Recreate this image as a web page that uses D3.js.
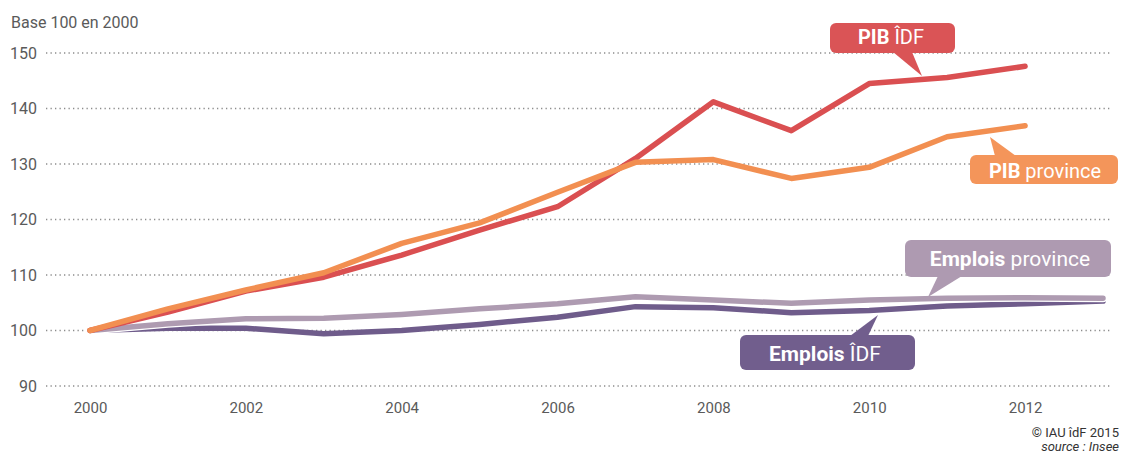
<!DOCTYPE html>
<html>
<head>
<meta charset="utf-8">
<script src="https://cdn.jsdelivr.net/npm/d3@7"></script>
<style>
  html, body { margin: 0; padding: 0; background: #fff; }
  svg { display: block; font-family: "Roboto", "Liberation Sans", sans-serif; }
</style>
</head>
<body>
<svg id="chart" width="1121" height="455"></svg>
<script>
const years = [2000, 2001, 2002, 2003, 2004, 2005, 2006, 2007, 2008, 2009, 2010, 2011, 2012, 2013];
const pibIdf = [100, 103.3, 107.1, 109.6, 113.6, 118.1, 122.3, 131.0, 141.2, 136.0, 144.5, 145.6, 147.6];
const pibProvince = [100, 103.9, 107.3, 110.4, 115.7, 119.4, 124.9, 130.3, 130.8, 127.4, 129.4, 134.9, 136.9];
const emploisProvince = [100, 101.2, 102.1, 102.2, 102.9, 103.9, 104.8, 106.1, 105.5, 104.9, 105.5, 105.8, 105.9, 105.8];
const emploisIdf = [100, 100.4, 100.4, 99.4, 100.0, 101.1, 102.4, 104.3, 104.1, 103.2, 103.6, 104.4, 104.8, 105.3];
const yTicks = [90, 100, 110, 120, 130, 140, 150];
const xTicks = [2000, 2002, 2004, 2006, 2008, 2010, 2012];
const yAxisTitle = "Base 100 en 2000";
const credit = "© IAU îdF 2015";
const source = "source : Insee";

const svg = d3.select("#chart");
const x = d3.scaleLinear().domain([2000, 2013]).range([90, 1103]);
const y = d3.scaleLinear().domain([90, 150]).range([386, 53]);

// gridlines
const grid = svg.append("g");
grid.selectAll("line").data(yTicks).join("line")
  .attr("x1", 46).attr("x2", 1112)
  .attr("y1", d => y(d)).attr("y2", d => y(d))
  .attr("stroke", "#8c8c8c").attr("stroke-width", 1.4)
  .attr("stroke-dasharray", "1.3,3.2");

// y axis labels
const yAxis = d3.axisLeft(y).tickValues(yTicks).tickSize(0).tickPadding(0);
const gy = svg.append("g").attr("transform", "translate(37,0)").call(yAxis);
gy.select(".domain").remove();
gy.selectAll("text").attr("font-size", 16).attr("fill", "#5a5a5a");
gy.attr("font-family", null);

// x axis labels
const xAxis = d3.axisBottom(x).tickValues(xTicks).tickFormat(d3.format("d")).tickSize(0).tickPadding(0);
const gx = svg.append("g").attr("transform", "translate(0,402)").call(xAxis);
gx.select(".domain").remove();
gx.selectAll("text").attr("font-size", 15).attr("fill", "#5a5a5a");
gx.attr("font-family", null);

// axis title
svg.append("text").attr("x", 11).attr("y", 28).attr("font-size", 16).attr("fill", "#5a5a5a").text(yAxisTitle);

const line = d3.line().x((d, i) => x(years[i])).y(d => y(d));

function drawLine(data, color, halo) {
  if (halo) {
    svg.append("path").datum(data).attr("d", line).attr("fill", "none")
      .attr("stroke", "#fff").attr("stroke-width", 8)
      .attr("stroke-linejoin", "round").attr("stroke-linecap", "round");
  }
  svg.append("path").datum(data).attr("d", line).attr("fill", "none")
    .attr("stroke", color).attr("stroke-width", 5.5)
    .attr("stroke-linejoin", "round").attr("stroke-linecap", "round");
}

drawLine(emploisIdf, "#6f5c8b", false);
drawLine(emploisProvince, "#ae9bb1", true);
drawLine(pibIdf, "#da4f51", false);
drawLine(pibProvince, "#f28f51", false);

// callouts
function callout(box, tail, color, bold, rest, tx, ty, fs) {
  const g = svg.append("g");
  g.append("polygon").attr("points", tail.map(p => p.join(",")).join(" ")).attr("fill", color);
  g.append("rect").attr("x", box[0]).attr("y", box[1]).attr("width", box[2]).attr("height", box[3])
    .attr("rx", 6).attr("fill", color);
  const t = g.append("text").attr("x", tx).attr("y", ty).attr("text-anchor", "middle")
    .attr("font-size", fs).attr("fill", "#fff");
  t.append("tspan").attr("font-weight", "bold").text(bold);
  t.append("tspan").text(rest);
}

callout([830, 23, 125, 30], [[893, 52], [912, 52], [922, 76]], "#da5456", "PIB", " ÎDF", 891, 44, 20);
callout([970, 155, 148, 29], [[995, 156], [1016, 156], [990, 137]], "#f4955a", "PIB", " province", 1045, 178, 20);
callout([905, 240, 206, 37], [[938, 276], [962, 276], [928, 297]], "#ae9ab1", "Emplois", " province", 1010, 266, 21);
callout([740, 335, 175, 35], [[850, 336], [868, 336], [878, 315]], "#715e8d", "Emplois", " ÎDF", 825, 361, 21);

// footer
svg.append("text").attr("x", 1119).attr("y", 437).attr("text-anchor", "end")
  .attr("font-size", 13).attr("fill", "#333").text(credit);
svg.append("text").attr("x", 1119).attr("y", 451).attr("text-anchor", "end")
  .attr("font-size", 13).attr("fill", "#333").attr("font-style", "italic").text(source);
</script>
</body>
</html>
